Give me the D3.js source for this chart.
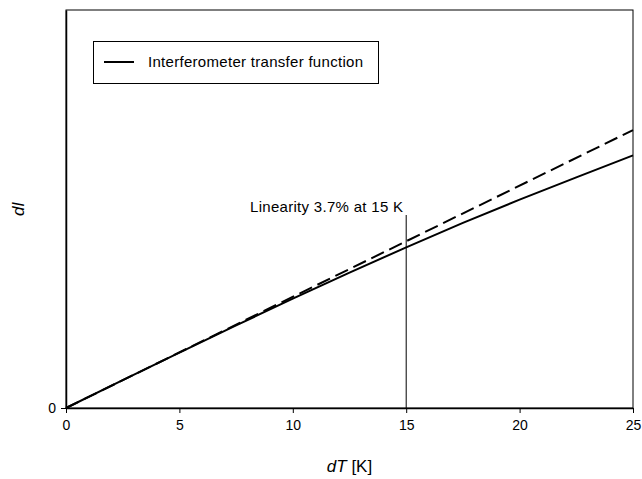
<!DOCTYPE html>
<html>
<head>
<meta charset="utf-8">
<script src="https://cdn.jsdelivr.net/npm/d3@7"></script>
<style>
  body { margin: 0; background: #fff; }
  svg { display: block; font-family: "Liberation Sans", Arial, sans-serif; }
</style>
</head>
<body>
<div id="chart"></div>
<script>
// dT [K] sample points and the transfer function
var dT = [0, 2.5, 5, 7.5, 10, 12.5, 15, 17.5, 20, 22.5, 25];
var dI = [0, 2.50, 4.98, 7.43, 9.83, 12.18, 14.45, 16.65, 18.74, 20.75, 22.72];
// ideal linear response (dashed)
var linearT = [0, 25];
var linearI = [0, 25];
var xTicks = [0, 5, 10, 15, 20, 25];
var yTicks = [0];
var legendLabel = "Interferometer transfer function";
var noteText = "Linearity 3.7% at 15 K";
var noteT = 15;

var width = 642, height = 479;
var margin = {top: 10, right: 9, bottom: 71, left: 66};

var svg = d3.select("#chart")
    .append("svg")
    .attr("width", width)
    .attr("height", height);

var x = d3.scaleLinear()
    .domain([0, 25])
    .range([margin.left, width - margin.right]);

var y = d3.scaleLinear()
    .domain([0, 35.8])
    .range([height - margin.bottom, margin.top]);

// plot frame
svg.append("rect")
    .attr("x", margin.left)
    .attr("y", margin.top)
    .attr("width", width - margin.left - margin.right)
    .attr("height", height - margin.top - margin.bottom)
    .attr("fill", "none")
    .attr("stroke", "#000")
    .attr("stroke-width", 1);

// x axis
var xAxis = svg.append("g")
    .attr("transform", "translate(0," + y(0) + ")")
    .call(d3.axisBottom(x).tickValues(xTicks).tickSize(5).tickSizeOuter(0).tickPadding(7));
xAxis.select(".domain").attr("stroke-width", 1.5);
xAxis.selectAll("text")
    .attr("font-size", 14)
    .attr("font-family", "Liberation Sans, Arial, sans-serif")
    .attr("fill", "#000");

// y axis
var yAxis = svg.append("g")
    .attr("transform", "translate(" + x(0) + ",0)")
    .call(d3.axisLeft(y).tickValues(yTicks).tickSize(5).tickSizeOuter(0).tickPadding(5));
yAxis.select(".domain").attr("stroke-width", 1.5);
yAxis.selectAll("text")
    .attr("font-size", 14)
    .attr("font-family", "Liberation Sans, Arial, sans-serif")
    .attr("fill", "#000");

// axis titles
var xTitle = svg.append("text")
    .attr("x", x(12.5))
    .attr("y", 472)
    .attr("text-anchor", "middle")
    .attr("font-size", 17);
xTitle.append("tspan").attr("font-style", "italic").text("dT");
xTitle.append("tspan").text(" [K]");

svg.append("text")
    .attr("transform", "translate(24," + y(17.9) + ") rotate(-90)")
    .attr("text-anchor", "middle")
    .attr("font-size", 17)
    .attr("font-style", "italic")
    .text("dI");

// marker line at 15 K
svg.append("line")
    .attr("x1", x(noteT)).attr("x2", x(noteT))
    .attr("y1", 215).attr("y2", y(0))
    .attr("stroke", "#000")
    .attr("stroke-width", 1);

svg.append("text")
    .attr("x", 250)
    .attr("y", 212)
    .attr("font-size", 15)
    .attr("textLength", 153)
    .text(noteText);

var line = d3.line()
    .x(function(d) { return x(d[0]); })
    .y(function(d) { return y(d[1]); });

svg.append("path")
    .datum(d3.zip(linearT, linearI))
    .attr("d", line)
    .attr("fill", "none")
    .attr("stroke", "#000")
    .attr("stroke-width", 2)
    .attr("stroke-dasharray", "14,6");

svg.append("path")
    .datum(d3.zip(dT, dI))
    .attr("d", line)
    .attr("fill", "none")
    .attr("stroke", "#000")
    .attr("stroke-width", 2);

// legend
var legend = svg.append("g");
legend.append("rect")
    .attr("x", 93.5)
    .attr("y", 41.5)
    .attr("width", 285)
    .attr("height", 42)
    .attr("fill", "#fff")
    .attr("stroke", "#000")
    .attr("stroke-width", 1);
legend.append("line")
    .attr("x1", 104).attr("x2", 134)
    .attr("y1", 62).attr("y2", 62)
    .attr("stroke", "#000")
    .attr("stroke-width", 2);
legend.append("text")
    .attr("x", 148)
    .attr("y", 67)
    .attr("font-size", 15)
    .attr("textLength", 215)
    .text(legendLabel);
</script>
</body>
</html>
